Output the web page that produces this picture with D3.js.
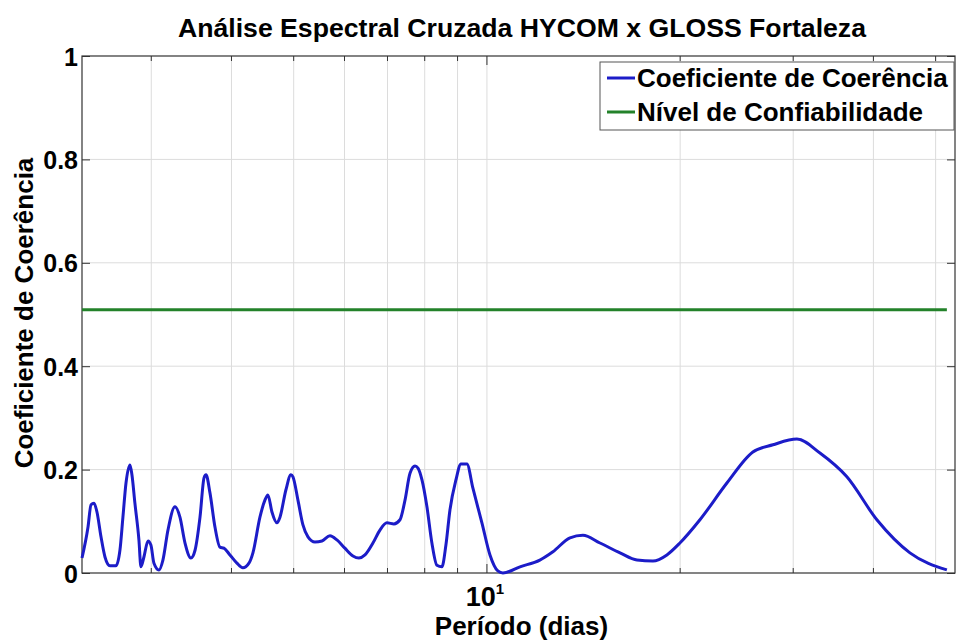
<!DOCTYPE html>
<html>
<head>
<meta charset="utf-8">
<script src="https://cdn.jsdelivr.net/npm/d3@7"></script>
<style>
  body { margin: 0; background: #fff; }
  text { font-family: "Liberation Sans", Arial, Helvetica, sans-serif; font-weight: bold; fill: #000; }
</style>
</head>
<body>
<div class="chart"></div>
<script>
// periodo (dias) e coeficiente de coerencia
const periods = [2.340, 2.391, 2.417, 2.443, 2.469, 2.505, 2.541, 2.587, 2.643, 2.681,
  2.710, 2.740, 2.779, 2.799, 2.829, 2.870, 2.891, 2.922, 2.965, 2.996,
  3.029, 3.084, 3.128, 3.185, 3.266, 3.325, 3.386, 3.459, 3.510, 3.573,
  3.625, 3.651, 3.703, 3.770, 3.838, 3.893, 3.978, 4.079, 4.168, 4.259,
  4.320, 4.430, 4.510, 4.559, 4.625, 4.709, 4.760, 4.863, 4.951, 4.987,
  5.077, 5.169, 5.263, 5.397, 5.534, 5.695, 5.839, 6.008, 6.184, 6.318,
  6.457, 6.644, 6.813, 6.986, 7.164, 7.321, 7.454, 7.589, 7.727, 7.809,
  7.922, 8.064, 8.209, 8.358, 8.509, 8.632, 8.758, 8.948, 9.111, 9.307,
  9.510, 9.822, 10.11, 10.40, 10.59, 11.26, 12.09, 12.67, 13.47, 14.11,
  15.00, 16.12, 17.13, 18.14, 19.07, 19.98, 21.47, 23.65, 25.96, 27.90,
  30.40, 33.02, 36.37, 40.50, 45.60, 52.06]

const coherence = [0.029, 0.089, 0.132, 0.135, 0.118, 0.070, 0.031, 0.014, 0.014, 0.044,
  0.108, 0.174, 0.209, 0.190, 0.135, 0.064, 0.012, 0.031, 0.062, 0.054,
  0.019, 0.006, 0.025, 0.083, 0.128, 0.108, 0.058, 0.029, 0.044, 0.108,
  0.184, 0.190, 0.155, 0.089, 0.050, 0.048, 0.035, 0.019, 0.010, 0.019,
  0.039, 0.108, 0.141, 0.151, 0.118, 0.097, 0.108, 0.161, 0.190, 0.186,
  0.141, 0.093, 0.070, 0.060, 0.062, 0.072, 0.064, 0.048, 0.033, 0.029,
  0.035, 0.058, 0.083, 0.097, 0.095, 0.103, 0.141, 0.193, 0.207, 0.203,
  0.180, 0.128, 0.058, 0.015, 0.012, 0.054, 0.122, 0.180, 0.211, 0.211,
  0.164, 0.097, 0.035, 0.004, 0.000, 0.012, 0.025, 0.041, 0.068, 0.073,
  0.058, 0.039, 0.025, 0.023, 0.035, 0.058, 0.103, 0.174, 0.234, 0.248,
  0.259, 0.232, 0.186, 0.103, 0.039, 0.006]

const confidenceLevel = 0.509
const xDomain = [2.34, 53.6]
const xGridTicks = [3, 4, 5, 6, 7, 8, 9, 10, 20, 30, 40, 50]
const xMajorTicks = [10]
const yTicks = [0, 0.2, 0.4, 0.6, 0.8, 1]
const legendLabels = ["Coeficiente de Coerência", "Nível de Confiabilidade"]

const width = 956
const height = 642
const margin = { top: 56, right: 1, bottom: 69, left: 82 }
const innerW = width - margin.left - margin.right
const innerH = height - margin.top - margin.bottom

const blue = "#1c1cc8"
const green = "#23822a"

const svg = d3.select(".chart")
    .append("svg")
    .attr("width", width)
    .attr("height", height)

svg.append("rect").attr("width", width).attr("height", height).attr("fill", "#fff")

const x = d3.scaleLog().domain(xDomain).range([margin.left, margin.left + innerW])
const y = d3.scaleLinear().domain([0, 1]).range([margin.top + innerH, margin.top])

// grade
const grid = svg.append("g").attr("stroke", "#dcdcdc").attr("stroke-width", 1)
grid.selectAll("line.vx")
    .data(xGridTicks)
    .join("line")
    .attr("class", "vx")
    .attr("x1", d => x(d)).attr("x2", d => x(d))
    .attr("y1", margin.top).attr("y2", margin.top + innerH)
grid.selectAll("line.hy")
    .data(yTicks.slice(1, -1))
    .join("line")
    .attr("class", "hy")
    .attr("x1", margin.left).attr("x2", margin.left + innerW)
    .attr("y1", d => y(d)).attr("y2", d => y(d))

// eixos (ticks para dentro, estilo matlab)
const axisColor = "#333"
const yLeft = svg.append("g")
    .attr("transform", `translate(${margin.left},0)`)
    .call(d3.axisLeft(y).tickValues(yTicks).tickFormat(d3.format("")).tickSizeInner(-8).tickSizeOuter(0).tickPadding(12))
yLeft.select(".domain").remove()
yLeft.selectAll("line").attr("stroke", axisColor)
yLeft.selectAll("text")
    .attr("font-size", 25)
    .attr("font-family", "Liberation Sans, Arial, sans-serif")
    .attr("font-weight", "bold")
    .attr("dy", "0.36em")
    .attr("x", -4)

const yRight = svg.append("g")
    .attr("transform", `translate(${margin.left + innerW},0)`)
    .call(d3.axisRight(y).tickValues(yTicks).tickFormat("").tickSizeInner(-8).tickSizeOuter(0))
yRight.select(".domain").remove()
yRight.selectAll("line").attr("stroke", axisColor)

const minorTicks = xGridTicks.filter(d => !xMajorTicks.includes(d))
function xTicks(yPos, dir) {
    const g = svg.append("g").attr("stroke", axisColor)
    g.selectAll("line.minor")
        .data(minorTicks)
        .join("line")
        .attr("x1", d => x(d)).attr("x2", d => x(d))
        .attr("y1", yPos).attr("y2", yPos + dir * 5)
    g.selectAll("line.major")
        .data(xMajorTicks)
        .join("line")
        .attr("x1", d => x(d)).attr("x2", d => x(d))
        .attr("y1", yPos).attr("y2", yPos + dir * 9)
}
xTicks(margin.top + innerH, -1)
xTicks(margin.top, 1)

// caixa
svg.append("rect")
    .attr("x", margin.left).attr("y", margin.top)
    .attr("width", innerW).attr("height", innerH)
    .attr("fill", "none").attr("stroke", axisColor).attr("stroke-width", 1.2)

// rotulo 10^1
const xl = svg.append("g")
    .selectAll("text")
    .data(xMajorTicks)
    .join("text")
    .attr("x", d => x(d) - 2)
    .attr("y", 606)
    .attr("text-anchor", "middle")
    .attr("font-size", 27)
xl.append("tspan").text("10")
xl.append("tspan").attr("font-size", 15).attr("dy", -12).text(d => Math.log10(d))

// linhas
const line = d3.line()
    .x(d => x(d[0]))
    .y(d => y(d[1]))
    .curve(d3.curveMonotoneX)

svg.append("path")
    .datum([[periods[0], confidenceLevel], [periods[periods.length - 1], confidenceLevel]])
    .attr("d", d3.line().x(d => x(d[0])).y(d => y(d[1])))
    .attr("fill", "none")
    .attr("stroke", green)
    .attr("stroke-width", 3)

svg.append("path")
    .datum(periods.map((p, i) => [p, coherence[i]]))
    .attr("d", line)
    .attr("fill", "none")
    .attr("stroke", blue)
    .attr("stroke-width", 3)
    .attr("stroke-linejoin", "round")

// titulos
svg.append("text")
    .attr("x", 522).attr("y", 37)
    .attr("text-anchor", "middle")
    .attr("font-size", 26)
    .attr("textLength", 688)
    .attr("lengthAdjust", "spacingAndGlyphs")
    .text("Análise Espectral Cruzada HYCOM x GLOSS Fortaleza")

svg.append("text")
    .attr("x", margin.left + innerW / 2 + 3).attr("y", 635)
    .attr("text-anchor", "middle")
    .attr("font-size", 26)
    .text("Período (dias)")

svg.append("text")
    .attr("transform", `translate(33,${313}) rotate(-90)`)
    .attr("text-anchor", "middle")
    .attr("font-size", 26)
    .text("Coeficiente de Coerência")

// legenda
const leg = svg.append("g").attr("transform", "translate(600,62)")
leg.append("rect")
    .attr("width", 354).attr("height", 68)
    .attr("fill", "#fff").attr("stroke", "#555").attr("stroke-width", 1)
const items = leg.selectAll("g.item")
    .data(legendLabels)
    .join("g")
    .attr("transform", (d, i) => `translate(0,${16 + i * 34})`)
items.append("line")
    .attr("x1", 7).attr("x2", 35)
    .attr("stroke", (d, i) => i === 0 ? blue : green)
    .attr("stroke-width", 3)
items.append("text")
    .attr("x", 37).attr("y", 9)
    .attr("font-size", 26)
    .text(d => d)
</script>
</body>
</html>
